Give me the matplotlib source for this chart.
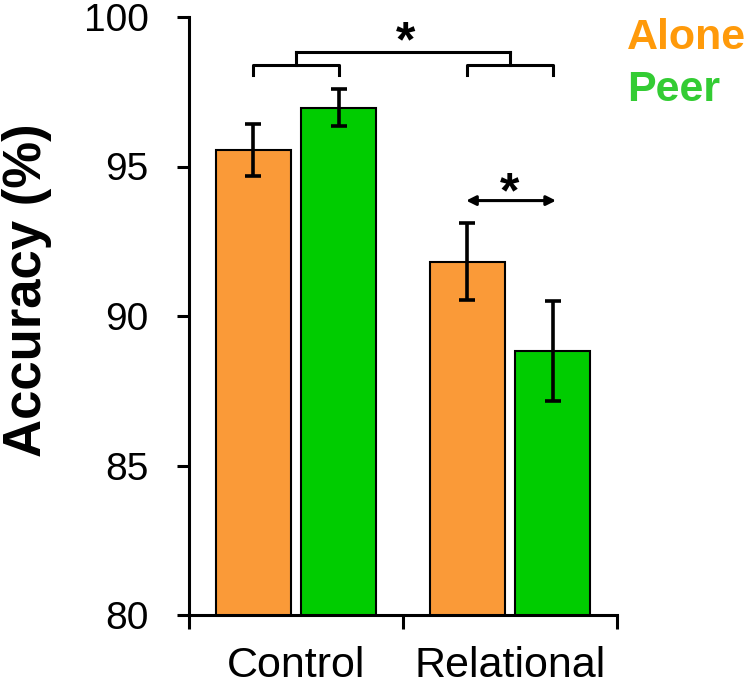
import matplotlib
matplotlib.use('Agg')
import matplotlib.pyplot as plt
import numpy as np

#
#--- data
#
groups      = ['Control', 'Relational']
alone_mean  = [95.55, 91.82]
alone_err   = [0.87, 1.30]
peer_mean   = [96.97, 88.83]
peer_err    = [0.63, 1.68]

orange_bar  = '#FA9A38'
green_bar   = '#00CC00'
orange_txt  = '#FF9A0A'
green_txt   = '#33CC33'

plt.rcParams['font.family'] = ['Liberation Sans', 'DejaVu Sans']

#
#--- figure and axes (750 x 685 px)
#
fig = plt.figure(figsize=(7.5, 6.85), dpi=100)
ax  = fig.add_axes([189 / 750, 1 - 615 / 685, 428 / 750, 598 / 685])

x   = np.arange(len(groups))
off = 0.2
wid = 0.35

ax.bar(x - off, alone_mean, wid, color=orange_bar, edgecolor='black', lw=1.5, zorder=2)
ax.bar(x + off, peer_mean, wid, color=green_bar, edgecolor='black', lw=1.5, zorder=2)
ax.errorbar(x - off, alone_mean, yerr=alone_err, fmt='none', ecolor='black',
            elinewidth=2.6, capsize=5.5, capthick=2.6, zorder=3)
ax.errorbar(x + off, peer_mean, yerr=peer_err, fmt='none', ecolor='black',
            elinewidth=2.6, capsize=5.5, capthick=2.6, zorder=3)

ax.set_xlim(-0.5, 1.5)
ax.set_ylim(80, 100)
ax.set_yticks([80, 85, 90, 95, 100])

#
#--- axes styling
#
for side in ['top', 'right']:
    ax.spines[side].set_visible(False)
for side in ['left', 'bottom']:
    ax.spines[side].set_linewidth(2.2)

ax.tick_params(axis='y', direction='out', length=9, width=2.2, labelsize=28, pad=20)
ax.set_xticks([-0.5, 0.5, 1.5])
ax.set_xticklabels([])
ax.tick_params(axis='x', which='major', direction='out', length=10, width=2.2)
ax.set_xticks(x, minor=True)
ax.set_xticklabels(groups, minor=True)
ax.tick_params(axis='x', which='minor', length=0, labelsize=31, pad=22)

fig.text(27 / 750, 1 - 290 / 685, 'Accuracy (%)', rotation=90, ha='center', va='center',
         fontsize=38, fontweight='bold')

#
#--- significance brackets
#
lw  = 2.2
ylo = 98.06
ymd = 98.40
yhi = 98.83
for g in x:
    ax.plot([g - off, g - off, g + off, g + off], [ylo, ymd, ymd, ylo], color='black', lw=lw,
            clip_on=False)
    ax.plot([g, g], [ymd, yhi], color='black', lw=lw, clip_on=False)
ax.plot([x[0], x[1]], [yhi, yhi], color='black', lw=lw, clip_on=False)
ax.text(0.512, 98.67, '*', ha='center', va='baseline', fontsize=36, fontweight='bold',
        clip_on=False)

ax.annotate('', xy=(1.215, 93.86), xytext=(0.795, 93.86),
            arrowprops=dict(arrowstyle='<|-|>', color='black', lw=2.2, mutation_scale=14,
                            shrinkA=0, shrinkB=0))
ax.text(1.0, 93.64, '*', ha='center', va='baseline', fontsize=36, fontweight='bold')

#
#--- legend as coloured text
#
fig.text(627 / 750, 1 - 38 / 685, 'Alone', color=orange_txt, fontsize=31, fontweight='bold',
         ha='left', va='center')
fig.text(627 / 750, 1 - 90 / 685, 'Peer', color=green_txt, fontsize=31, fontweight='bold',
         ha='left', va='center')

plt.savefig('out.png', dpi=100)
plt.close('all')
